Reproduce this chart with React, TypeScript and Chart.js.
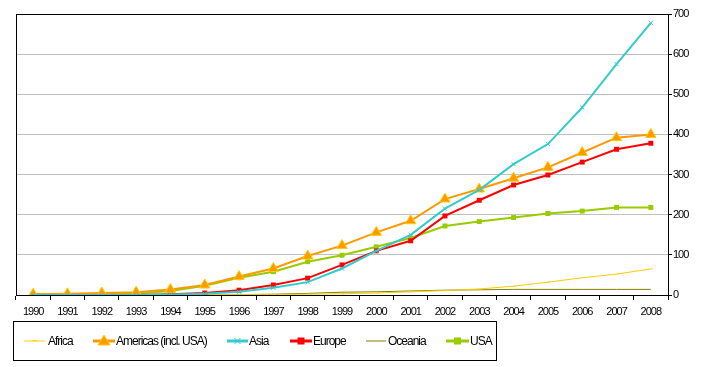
import React, { useEffect, useRef } from "react";
import { Chart, registerables } from "chart.js";
Chart.register(...registerables);

const years = ["1990","1991","1992","1993","1994","1995","1996","1997","1998","1999","2000","2001","2002","2003","2004","2005","2006","2007","2008"];
const africa = [0, 0, 0, 0, 0, 1, 1, 1, 2, 3, 5, 8, 11, 15, 22, 32, 43, 52, 65];
const americas = [2, 3, 5, 7, 14, 25, 46, 66, 97, 123, 156, 185, 239, 264, 291, 318, 355, 392, 400];
const asia = [0, 0, 0, 0, 1, 3, 8, 18, 32, 66, 110, 150, 215, 262, 326, 376, 467, 575, 678];
const europe = [0, 0, 0, 0, 2, 5, 12, 25, 42, 75, 110, 135, 197, 236, 274, 299, 331, 363, 378];
const oceania = [0, 0, 0, 0, 0, 0, 1, 2, 4, 7, 8, 10, 12, 13, 14, 14, 14, 14, 14];
const usa = [2, 2, 3, 4, 10, 23, 43, 58, 83, 99, 120, 142, 172, 183, 193, 203, 209, 218, 218];
const yTicks = [0, 100, 200, 300, 400, 500, 600, 700];

const seriesNames = ["Africa", "Americas (incl. USA)", "Asia", "Europe", "Oceania", "USA"];
const FONT = "'Liberation Sans', Arial, sans-serif";

function drawMarker(ctx: CanvasRenderingContext2D, kind: string, x: number, y: number, color: string, border: string) {
  ctx.save();
  ctx.fillStyle = color;
  ctx.strokeStyle = border;
  ctx.lineWidth = 1;
  if (kind === "triangle") {
    ctx.beginPath();
    ctx.moveTo(x, y - 6);
    ctx.lineTo(x + 6, y + 4);
    ctx.lineTo(x - 6, y + 4);
    ctx.closePath();
    ctx.fill();
    ctx.stroke();
  } else if (kind === "rect") {
    ctx.fillRect(x - 3.5, y - 3.5, 7, 7);
  } else if (kind === "cross") {
    ctx.strokeStyle = color;
    ctx.beginPath();
    ctx.moveTo(x - 3, y - 3); ctx.lineTo(x + 3, y + 3);
    ctx.moveTo(x + 3, y - 3); ctx.lineTo(x - 3, y + 3);
    ctx.stroke();
  } else if (kind === "dash") {
    ctx.strokeStyle = color;
    ctx.beginPath();
    ctx.moveTo(x - 2, y - 0.5); ctx.lineTo(x + 2, y - 0.5);
    ctx.stroke();
  }
  ctx.restore();
}

const legendItems = [
  { x1: 24, x2: 45, tx: 48, color: "#FFCC00", width: 1, marker: "dash", border: "#FFCC00" },
  { x1: 93, x2: 115, tx: 116, color: "#FF9900", width: 3, marker: "triangle", border: "#FFCC00" },
  { x1: 227, x2: 248, tx: 249, color: "#33CCCC", width: 3, marker: "cross", border: "#33CCCC" },
  { x1: 290, x2: 312, tx: 313, color: "#FF0000", width: 3, marker: "rect", border: "#FF0000" },
  { x1: 366, x2: 386, tx: 388, color: "#808000", width: 1, marker: "none", border: "#808000" },
  { x1: 446, x2: 469, tx: 470, color: "#99CC00", width: 3, marker: "rect", border: "#99CC00" },
];

const spacingPlugin = {
  id: "narrowText",
  beforeInit(chart: any) { (chart.ctx as any).letterSpacing = "-1px"; },
  beforeLayout(chart: any) { (chart.ctx as any).letterSpacing = "-1px"; },
  beforeDraw(chart: any) { (chart.ctx as any).letterSpacing = "-1px"; },
};

const framePlugin = {
  id: "frameAndLegend",
  afterDraw(chart: any) {
    const ctx = chart.ctx as CanvasRenderingContext2D;
    const a = chart.chartArea;
    ctx.save();
    ctx.strokeStyle = "#000";
    ctx.lineWidth = 1;
    ctx.strokeRect(Math.round(a.left) + 0.5, Math.round(a.top) + 0.5, Math.round(a.right - a.left), Math.round(a.bottom - a.top));
    // legend box
    ctx.strokeRect(13.5, 321.5, 483, 39);
    (ctx as any).letterSpacing = "-1px";
    ctx.font = "12px " + FONT;
    ctx.fillStyle = "#000";
    ctx.textBaseline = "middle";
    const ly = 341;
    legendItems.forEach((it, i) => {
      ctx.strokeStyle = it.color;
      ctx.lineWidth = it.width;
      ctx.beginPath();
      ctx.moveTo(it.x1, ly);
      ctx.lineTo(it.x2, ly);
      ctx.stroke();
      if (it.marker !== "none") drawMarker(ctx, it.marker, (it.x1 + it.x2) / 2, ly, it.color, it.border);
      ctx.fillStyle = "#000";
      ctx.fillText(seriesNames[i], it.tx, ly + 1);
    });
    ctx.restore();
  },
};

export default function App() {
  const ref = useRef<HTMLCanvasElement>(null);
  useEffect(() => {
    document.body.style.margin = "0";
    const chart = new Chart(ref.current!, {
      type: "line",
      data: {
        labels: years,
        datasets: [
          { label: seriesNames[2], data: asia, borderColor: "#33CCCC", backgroundColor: "#33CCCC", borderWidth: 2, pointStyle: "crossRot", pointRadius: 3, pointBorderWidth: 1, pointBorderColor: "#33CCCC" },
          { label: seriesNames[1], data: americas, borderColor: "#FF9900", backgroundColor: "#FF9900", borderWidth: 2, pointStyle: "triangle", pointRadius: 6, pointBorderWidth: 1, pointBorderColor: "#FFCC00", pointBackgroundColor: "#FF9900" },
          { label: seriesNames[3], data: europe, borderColor: "#FF0000", backgroundColor: "#FF0000", borderWidth: 2, pointStyle: "rect", pointRadius: 3.5, pointBorderWidth: 0 },
          { label: seriesNames[5], data: usa, borderColor: "#99CC00", backgroundColor: "#99CC00", borderWidth: 2, pointStyle: "rect", pointRadius: 3.5, pointBorderWidth: 0 },
          { label: seriesNames[0], data: africa, borderColor: "#FFCC00", backgroundColor: "#FFCC00", borderWidth: 1, pointStyle: "dash", pointRadius: 2, pointBorderWidth: 1, pointBorderColor: "#FFCC00" },
          { label: seriesNames[4], data: oceania, borderColor: "#808000", backgroundColor: "#808000", borderWidth: 1, pointRadius: 0 },
        ],
      },
      options: {
        animation: false,
        responsive: false,
        maintainAspectRatio: false,
        layout: { padding: { left: 16, top: 14, right: 0, bottom: 0 } },
        plugins: { legend: { display: false }, tooltip: { enabled: false } },
        elements: { line: { tension: 0 } },
        scales: {
          x: {
            type: "category",
            offset: true,
            grid: { offset: true, drawOnChartArea: false, color: "#000", tickLength: 5 },
            border: { display: true, color: "#000" },
            ticks: { color: "#000", font: { family: FONT, size: 11 }, padding: 5, maxRotation: 0, autoSkip: false },
            afterFit: (s: any) => { s.height = 72; },
          },
          y: {
            position: "right",
            min: 0,
            max: 700,
            afterBuildTicks: (s: any) => { s.ticks = yTicks.map((v) => ({ value: v })); },
            grid: { color: "#C0C0C0", tickColor: "#000", tickLength: 4, drawTicks: true },
            border: { display: true, color: "#000" },
            ticks: { color: "#000", font: { family: FONT, size: 11 }, padding: 1 },
            afterFit: (s: any) => { s.width = 36; },
          },
        },
      },
      plugins: [spacingPlugin, framePlugin],
    });
    return () => chart.destroy();
  }, []);
  return <canvas ref={ref} width={704} height={367} style={{ display: "block", width: 704, height: 367 }} />;
}
